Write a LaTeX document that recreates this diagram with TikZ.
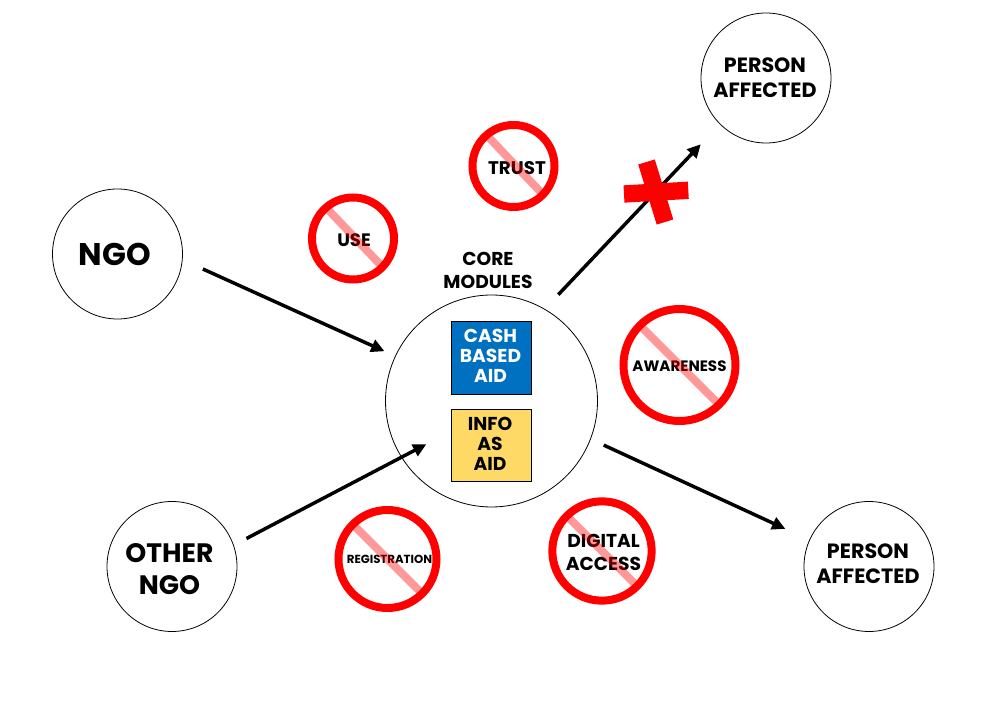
\documentclass[tikz,border=0pt]{standalone}
\usepackage{fontspec}
\setmainfont{Poppins}
\usetikzlibrary{arrows.meta}
\definecolor{cashblue}{HTML}{0070C0}
\definecolor{infoyellow}{HTML}{FFD966}
\newcommand{\fs}[2]{\fontsize{#1}{#2}\selectfont\bfseries}
\tikzset{
  actor/.style={circle,draw=black,line width=0.6pt,minimum size=97.5pt,inner sep=0pt,outer sep=0pt,align=center},
  ring/.style={circle,draw=red,line width=6pt,inner sep=0pt,outer sep=0pt},
  slash/.style={draw=red,opacity=0.4,line width=6pt},
  lab/.style={inner sep=0pt,align=center},
  modbox/.style={draw=black,line width=0.8pt,minimum width=60pt,inner sep=0pt,outer sep=0pt,align=center},
  flow/.style={draw=black,line width=2.6pt,-{Triangle[length=10pt,width=9.5pt]}},
  crossarm/.style={draw=red,line width=13pt}
}
\begin{document}
\begin{tikzpicture}[x=0.75pt,y=-0.75pt]
\useasboundingbox (0,0) rectangle (1008,720);
% actors
\node[actor] (ngo) at (117.5,254) {};
\node[lab,font=\fs{23.5}{28}] (ngolab) at (115,254) {NGO};
\node[actor] (other) at (172,566.5) {};
\node[lab,font=\fs{20}{24}] (otherlab) at (169.5,569) {OTHER\\NGO};
\node[actor] (ptop) at (766,78) {};
\node[lab,font=\fs{15.5}{18.5}] (ptoplab) at (765,78) {PERSON\\AFFECTED};
\node[actor] (pbot) at (869,566.5) {};
\node[lab,font=\fs{15.5}{19}] (pbotlab) at (868,563.5) {PERSON\\AFFECTED};
\node[circle,draw=black,line width=0.6pt,minimum size=159pt,inner sep=0pt,outer sep=0pt] (core) at (491.5,401) {};
\node[lab,font=\fs{14}{17.5}] (corelab) at (488,270.5) {CORE\\MODULES};
% modules
\node[modbox,minimum height=54.5pt,fill=cashblue] (cash) at (491.5,358) {};
\node[lab,text=white,font=\fs{14}{15}] (cashlab) at (490.5,355.5) {CASH\\BASED\\AID};
\node[modbox,minimum height=54pt,fill=infoyellow] (info) at (491.5,445.3) {};
\node[lab,font=\fs{14}{15}] (infolab) at (490,443.5) {INFO\\AS\\AID};
% barred topics
\node[ring,minimum size=61.5pt] (use) at (353,238.5) {};
\node[lab,font=\fs{13.5}{15}] (uselab) at (354,240) {USE};
\draw[slash] ([shift={(2,-2)}]use.135) -- ([shift={(1,0)}]use.-45);
\node[ring,minimum size=61.5pt] (trust) at (513.5,166) {};
\node[lab,font=\fs{13.7}{15}] (trustlab) at (517,168) {TRUST};
\draw[slash] ([shift={(2,-2)}]trust.135) -- ([shift={(1,0)}]trust.-45);
\node[ring,minimum size=84pt] (aware) at (679.5,365) {};
\node[lab,font=\fs{11.3}{13}] (awarelab) at (679.5,366) {AWARENESS};
\draw[slash] (aware.135) -- (aware.-45);
\node[ring,minimum size=73.5pt] (reg) at (387.5,559) {};
\node[lab,font=\fs{8.8}{11}] (reglab) at (389.5,559) {REGISTRATION};
\draw[slash] (reg.135) -- (reg.-45);
\node[ring,minimum size=74.5pt] (dig) at (602,551) {};
\node[lab,font=\fs{14}{17.5}] (diglab) at (603.5,552.5) {DIGITAL\\ACCESS};
\draw[slash] (dig.135) -- (dig.-45);
% connectors
\draw[flow,shorten <=17pt,shorten >=9pt] (ngo.-5) -- (core.155);
\draw[flow,shorten <=11pt,shorten >=-21pt] (other.19) -- (core.212.5);
\draw[flow,shorten <=15pt,shorten >=21pt] (core.60.3) -- (ptop.225);
\draw[flow,shorten <=11pt,shorten >=20pt] (core.-21.4) -- (pbot.156.6);
% cross on the blocked connector
\coordinate (crossl) at (624,194);
\coordinate (crossr) at (688.3,190.3);
\coordinate (crosst) at (646.5,162);
\coordinate (crossb) at (665,222);
\draw[crossarm] (crossl) -- (crossr);
\draw[crossarm] (crosst) -- (crossb);
\end{tikzpicture}
\end{document}
